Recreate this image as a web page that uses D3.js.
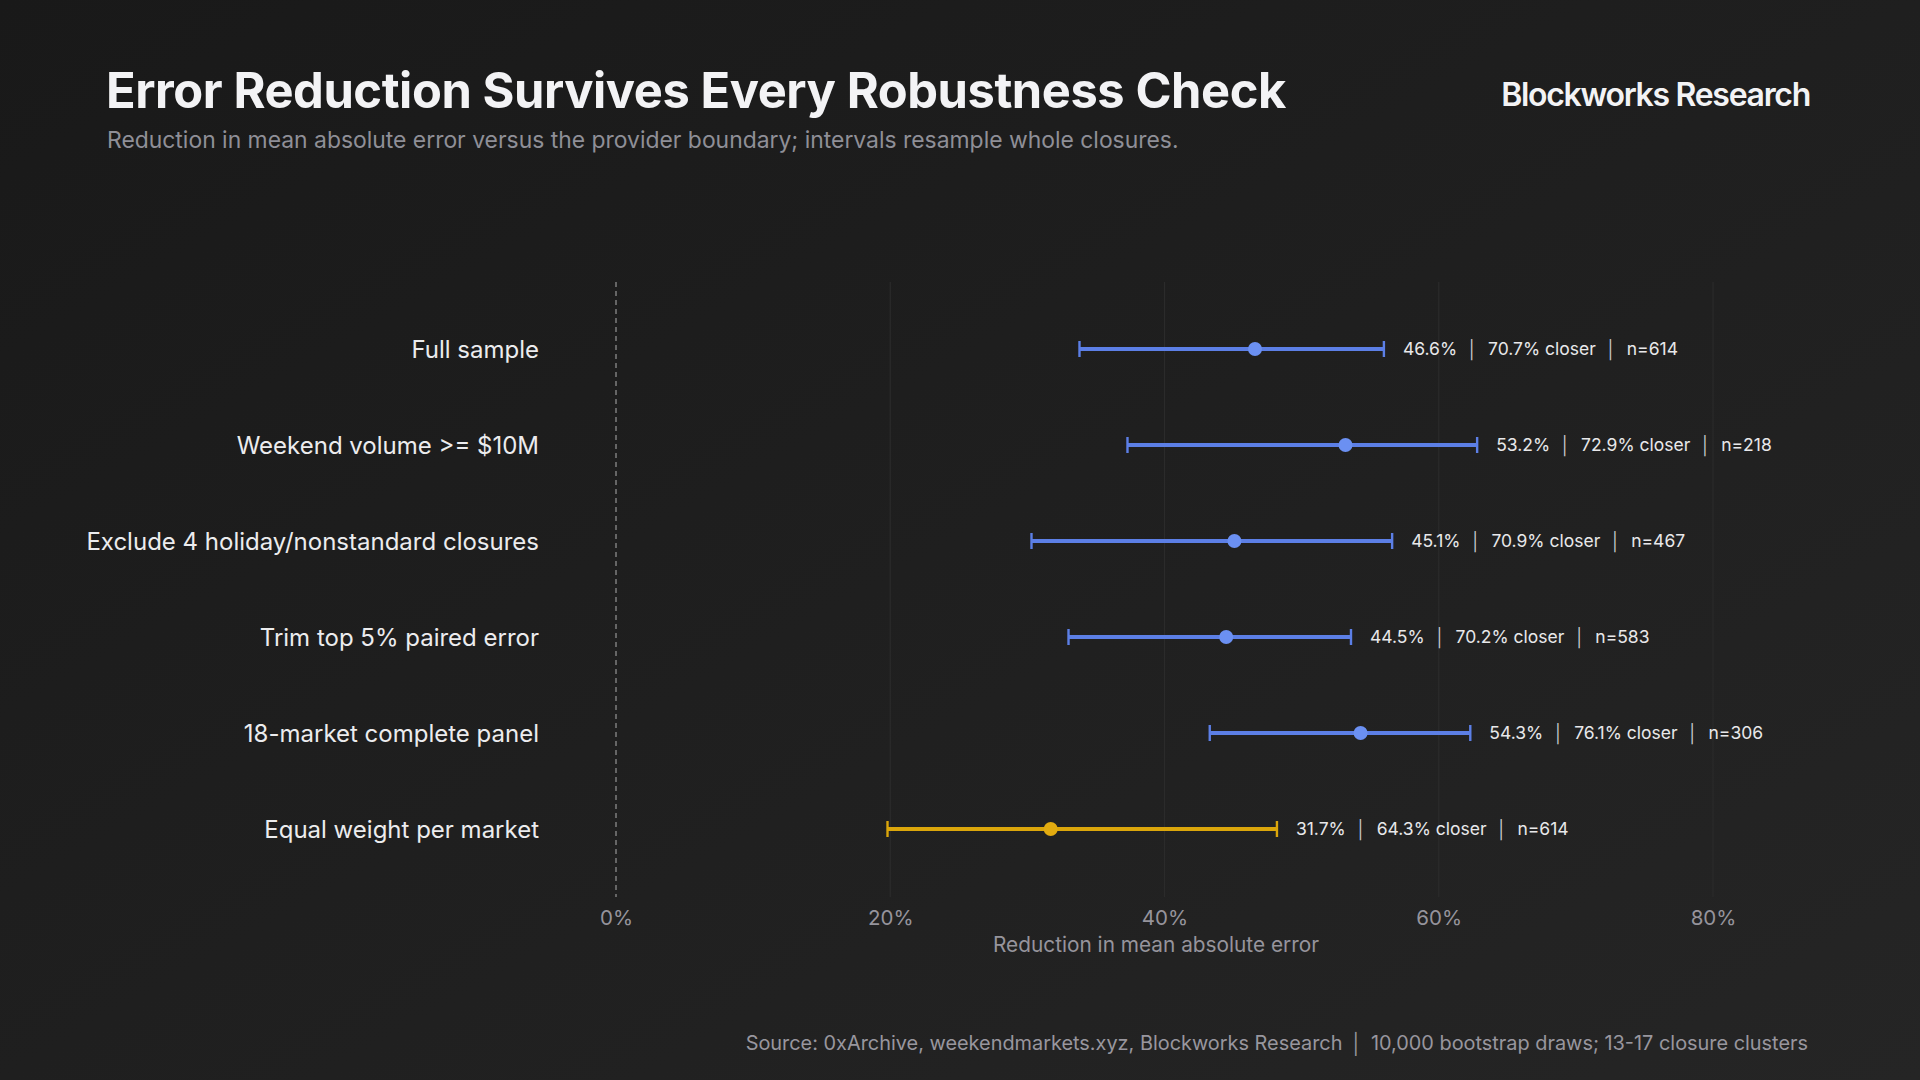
<!DOCTYPE html>
<html>
<head>
<meta charset="utf-8">
<script src="https://cdn.jsdelivr.net/npm/d3@7"></script>
<style>
  html, body { margin: 0; padding: 0; background: #1b1b1b; }
  svg { display: block; }
  text { font-family: Inter, "Noto Sans", sans-serif; }
</style>
</head>
<body>
<svg id="chart" width="1920" height="1080"></svg>
<script>
const categories = [
  "Full sample",
  "Weekend volume >= $10M",
  "Exclude 4 holiday/nonstandard closures",
  "Trim top 5% paired error",
  "18-market complete panel",
  "Equal weight per market"
];
const pointValues = [46.6, 53.2, 45.1, 44.5, 54.3, 31.7];
const lowValues   = [33.8, 37.3, 30.3, 33.0, 43.3, 19.8];
const highValues  = [56.0, 62.8, 56.6, 53.6, 62.3, 48.2];
const closerValues = [70.7, 72.9, 70.9, 70.2, 76.1, 64.3];
const nValues = [614, 218, 467, 583, 306, 614];
const highlight = [false, false, false, false, false, true];
const xTicks = [0, 20, 40, 60, 80];

const svg = d3.select("#chart");
const W = 1920, H = 1080;

// background
const defs = svg.append("defs");
const grad = defs.append("linearGradient").attr("id", "bg")
  .attr("x1", "0").attr("y1", "0").attr("x2", "1").attr("y2", "1");
grad.append("stop").attr("offset", "0").attr("stop-color", "#191919");
grad.append("stop").attr("offset", "1").attr("stop-color", "#252525");
svg.append("rect").attr("width", W).attr("height", H).attr("fill", "url(#bg)");

// header
svg.append("text").attr("x", 106).attr("y", 108)
  .attr("font-size", 48.8).attr("font-weight", 700).attr("fill", "#f3f3f5")
  .attr("letter-spacing", "-0.42")
  .text("Error Reduction Survives Every Robustness Check");
svg.append("text").attr("x", 107).attr("y", 148)
  .attr("font-size", 22.9).attr("fill", "#8f8f97")
  .text("Reduction in mean absolute error versus the provider boundary; intervals resample whole closures.");
svg.append("text").attr("x", 1810).attr("y", 106).attr("text-anchor", "end")
  .attr("font-size", 32).attr("font-weight", 600).attr("fill", "#f3f3f5")
  .attr("letter-spacing", "-1.3")
  .text("Blockworks Research");

// scales
const x = d3.scaleLinear().domain([0, 80]).range([616, 1713]);
const y = d3.scalePoint().domain(categories).range([349, 829]);
const yTop = 282, yBot = 897;

// gridlines
svg.append("g").selectAll("line").data(xTicks.filter(d => d > 0)).join("line")
  .attr("x1", d => x(d)).attr("x2", d => x(d))
  .attr("y1", yTop).attr("y2", yBot)
  .attr("stroke", "#2b2b2b").attr("stroke-width", 1.2);

// zero line
svg.append("line").attr("x1", x(0)).attr("x2", x(0)).attr("y1", yTop).attr("y2", yBot)
  .attr("stroke", "#8c8c8c").attr("stroke-width", 1.3).attr("stroke-dasharray", "5,4");

// x axis
const xAxis = d3.axisBottom(x).tickValues(xTicks).tickFormat(d => d + "%").tickSize(0).tickPadding(0);
const gx = svg.append("g").attr("transform", `translate(0, 910)`).call(xAxis);
gx.select(".domain").remove();
gx.selectAll("text").attr("font-size", 20.5).attr("fill", "#96949c")
  .attr("font-family", "Inter, sans-serif").attr("dy", "0.71em");
svg.append("text").attr("x", 1156).attr("y", 952).attr("text-anchor", "middle")
  .attr("font-size", 20.8).attr("fill", "#96949c")
  .text("Reduction in mean absolute error");

// y labels
const yAxis = d3.axisLeft(y).tickSize(0).tickPadding(0);
const gy = svg.append("g").attr("transform", `translate(539, 0)`).call(yAxis);
gy.select(".domain").remove();
gy.selectAll("text").attr("font-size", 24).attr("fill", "#ececee")
  .attr("font-family", "Inter, sans-serif").attr("dy", "0.35em");

// rows
const rows = categories.map((c, i) => ({
  c, p: pointValues[i], lo: lowValues[i], hi: highValues[i],
  closer: closerValues[i], n: nValues[i], hl: highlight[i]
}));
const lineColor = d => d.hl ? "#dba60b" : "#5c7fe6";
const dotColor = d => d.hl ? "#e2ab10" : "#6b90f2";

const g = svg.append("g").selectAll("g").data(rows).join("g");
g.append("line").attr("x1", d => x(d.lo)).attr("x2", d => x(d.hi))
  .attr("y1", d => y(d.c)).attr("y2", d => y(d.c))
  .attr("stroke", lineColor).attr("stroke-width", 3.8);
g.append("line").attr("x1", d => x(d.lo)).attr("x2", d => x(d.lo))
  .attr("y1", d => y(d.c) - 8).attr("y2", d => y(d.c) + 8)
  .attr("stroke", lineColor).attr("stroke-width", 2.4);
g.append("line").attr("x1", d => x(d.hi)).attr("x2", d => x(d.hi))
  .attr("y1", d => y(d.c) - 8).attr("y2", d => y(d.c) + 8)
  .attr("stroke", lineColor).attr("stroke-width", 2.4);
g.append("circle").attr("cx", d => x(d.p)).attr("cy", d => y(d.c)).attr("r", 7)
  .attr("fill", dotColor);

const t = g.append("text").attr("x", d => x(d.hi) + 19).attr("y", d => y(d.c))
  .attr("dy", "0.36em").attr("font-size", 17.5).attr("fill", "#e8e8ea");
t.append("tspan").text(d => d.p.toFixed(1) + "%");
t.append("tspan").attr("dx", 10).attr("fill", "#c8c8cc").text("│");
t.append("tspan").attr("dx", 10).text(d => d.closer.toFixed(1) + "% closer");
t.append("tspan").attr("dx", 10).attr("fill", "#c8c8cc").text("│");
t.append("tspan").attr("dx", 10).text(d => "n=" + d.n);

// footer
const f = svg.append("text").attr("x", 1808).attr("y", 1050).attr("text-anchor", "end")
  .attr("font-size", 19.9).attr("fill", "#98969e");
f.append("tspan").text("Source: 0xArchive, weekendmarkets.xyz, Blockworks Research");
f.append("tspan").attr("dx", 8).text("│");
f.append("tspan").attr("dx", 8).text("10,000 bootstrap draws; 13-17 closure clusters");
</script>
</body>
</html>
